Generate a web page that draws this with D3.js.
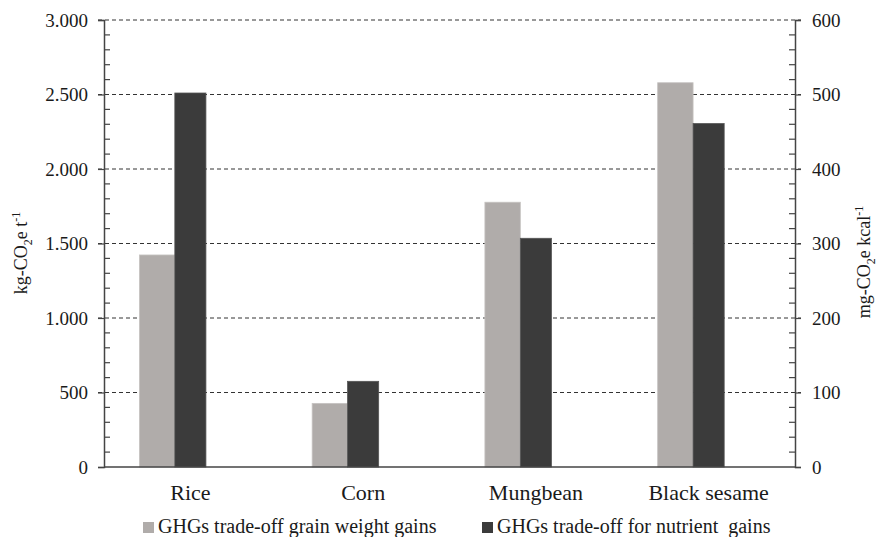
<!DOCTYPE html>
<html>
<head>
<meta charset="utf-8">
<script src="https://cdnjs.cloudflare.com/ajax/libs/d3/7.8.5/d3.min.js"></script>
<style>
  body { margin: 0; background: #fff; }
  svg text { font-family: "Times New Roman", Tinos, "Liberation Serif", "DejaVu Serif", serif; fill: #1a1a1a; }
</style>
</head>
<body>
<div id="chart"></div>
<script>
// data
var categories = ["Rice", "Corn", "Mungbean", "Black sesame"];
var grainGains = [1423, 427, 1777, 2579];      // kg-CO2e t-1, left axis
var nutrientGains = [502, 115, 307, 461];      // mg-CO2e kcal-1, right axis
var leftTicks = [0, 500, 1000, 1500, 2000, 2500, 3000];
var rightTicks = [0, 100, 200, 300, 400, 500, 600];
var seriesNames = ["GHGs trade-off grain weight gains", "GHGs trade-off for nutrient  gains"];

var W = 879, H = 537;
var margin = { top: 20, right: 84, bottom: 70, left: 104 };
var x0 = margin.left, x1 = W - margin.right, yTop = margin.top, yBot = H - margin.bottom;
var serif = "'Times New Roman', Tinos, 'Liberation Serif', 'DejaVu Serif', serif";

var svg = d3.select("#chart").append("svg")
    .attr("width", W).attr("height", H)
    .attr("font-family", serif);

var x = d3.scaleBand().domain(categories).range([x0, x1]).padding(0);
var yL = d3.scaleLinear().domain([0, 3000]).range([yBot, yTop]);
var yR = d3.scaleLinear().domain([0, 600]).range([yBot, yTop]);

var fmt = function (v) { return d3.format(",")(v).replace(/,/g, "."); };

// dashed gridlines
svg.selectAll("line.grid")
    .data(leftTicks.filter(function (d) { return d > 0; }))
    .enter().append("line")
    .attr("x1", x0 - 6).attr("x2", x1 + 6)
    .attr("y1", function (d) { return yL(d); })
    .attr("y2", function (d) { return yL(d); })
    .attr("stroke", "#333").attr("stroke-width", 1)
    .attr("stroke-dasharray", "4,3");

// bars
var bw = x.bandwidth();
var darkW = bw * 0.18, grayW = bw * 0.205;

svg.selectAll("rect.gray")
    .data(categories).enter().append("rect")
    .attr("x", function (d) { return x(d) + bw / 2 - darkW / 2 - grayW; })
    .attr("y", function (d, i) { return yL(grainGains[i]); })
    .attr("width", grayW)
    .attr("height", function (d, i) { return yBot - yL(grainGains[i]); })
    .attr("fill", "#b0acaa").attr("stroke", "#c6c3c1").attr("stroke-width", 0.8);

svg.selectAll("rect.dark")
    .data(categories).enter().append("rect")
    .attr("x", function (d) { return x(d) + bw / 2 - darkW / 2; })
    .attr("y", function (d, i) { return yR(nutrientGains[i]); })
    .attr("width", darkW)
    .attr("height", function (d, i) { return yBot - yR(nutrientGains[i]); })
    .attr("fill", "#3b3b3b").attr("stroke", "#555").attr("stroke-width", 0.8);

// left axis
var axisColor = "#444";
var gL = svg.append("g").attr("transform", "translate(" + x0 + ",0)");
gL.call(d3.axisLeft(yL).tickValues(leftTicks).tickSize(6).tickPadding(10).tickFormat(fmt));
gL.attr("font-family", serif).attr("font-size", 19);
gL.select(".domain").attr("stroke", axisColor).attr("stroke-width", 1.5);
gL.selectAll(".tick line").attr("stroke", axisColor).attr("stroke-width", 1.2);
gL.selectAll(".tick text").attr("fill", "#1a1a1a");
gL.selectAll("line.minor")
    .data(d3.range(100, 3000, 100).filter(function (d) { return d % 500 !== 0; }))
    .enter().append("line")
    .attr("x1", 0).attr("x2", 6)
    .attr("y1", function (d) { return yL(d); }).attr("y2", function (d) { return yL(d); })
    .attr("stroke", axisColor).attr("stroke-width", 1.2);

// right axis
var gR = svg.append("g").attr("transform", "translate(" + x1 + ",0)");
gR.call(d3.axisRight(yR).tickValues(rightTicks).tickSize(6).tickPadding(11));
gR.attr("font-family", serif).attr("font-size", 19);
gR.select(".domain").attr("stroke", axisColor).attr("stroke-width", 1.5);
gR.selectAll(".tick line").attr("stroke", axisColor).attr("stroke-width", 1.2);
gR.selectAll(".tick text").attr("fill", "#1a1a1a");
gR.selectAll("line.minor")
    .data(d3.range(20, 600, 20).filter(function (d) { return d % 100 !== 0; }))
    .enter().append("line")
    .attr("x1", -6).attr("x2", 0)
    .attr("y1", function (d) { return yR(d); }).attr("y2", function (d) { return yR(d); })
    .attr("stroke", axisColor).attr("stroke-width", 1.2);

// bottom axis line
svg.append("line")
    .attr("x1", x0).attr("x2", x1).attr("y1", yBot).attr("y2", yBot)
    .attr("stroke", axisColor).attr("stroke-width", 1.5);

// category labels
svg.selectAll("text.cat")
    .data(categories).enter().append("text")
    .attr("x", function (d) { return x(d) + bw / 2; })
    .attr("y", 500)
    .attr("text-anchor", "middle")
    .attr("font-size", 22)
    .text(function (d) { return d; });

// axis titles
function axisTitle(cx, cy, pre, post, sup) {
    var t = svg.append("text")
        .attr("transform", "translate(" + cx + "," + cy + ") rotate(-90)")
        .attr("text-anchor", "middle")
        .attr("font-size", 18);
    t.append("tspan").text(pre);
    t.append("tspan").attr("dy", 5).attr("font-size", 12).text("2");
    t.append("tspan").attr("dy", -5).text(post);
    t.append("tspan").attr("dy", -7).attr("font-size", 12).text(sup);
}
axisTitle(27, 253, "kg-CO", "e t", "-1");
axisTitle(870, 262, "mg-CO", "e kcal", "-1");

// legend
var legendX = [143, 482];
var legendColors = ["#b0acaa", "#3b3b3b"];
var lg = svg.selectAll("g.legend")
    .data(seriesNames).enter().append("g")
    .attr("transform", function (d, i) { return "translate(" + legendX[i] + ",522)"; });
lg.append("rect")
    .attr("width", 11).attr("height", 11)
    .attr("fill", function (d, i) { return legendColors[i]; });
lg.append("text")
    .attr("x", 15).attr("y", 11)
    .attr("font-size", 20)
    .attr("xml:space", "preserve")
    .style("white-space", "pre")
    .text(function (d) { return d; });
</script>
</body>
</html>
